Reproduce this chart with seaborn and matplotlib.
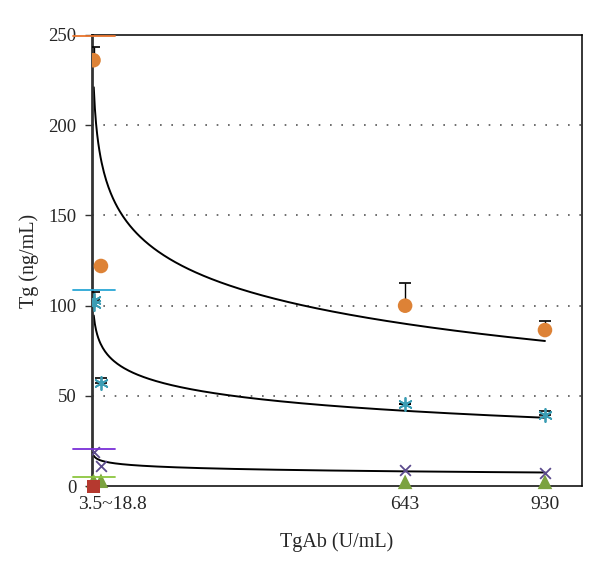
import numpy as np
import pandas as pd
import matplotlib
matplotlib.use('Agg')
import matplotlib.pyplot as plt
import seaborn as sns

# datos
x_vals = [3.5, 18.8, 643, 930]
tg_orange = [236, 122, 100, 86.5]
tg_orange_up = [7.5, 0, 12.5, 5]
tg_cyan = [103, 57, 45.5, 39.7]
tg_cyan_up = [4.5, 3, 0, 2]
tg_cyan_extra = [101]
tg_purple = [19, 11, 8.9, 7.4]
tg_green = [3, 3, 2.4, 2.4]
tg_red_x = [3.5]
tg_red = [0]

# limites de referencia (lineas cortas sobre el eje y)
ref_limits = [249.4, 108.6, 20.5, 5]
ref_colors = ['#e8742c', '#2aa7d6', '#7a2fd8', '#8cc63f']

# ajuste logaritmico y = a - b*ln(x)
fit_a = [256.8, 109.0, 19.2]
fit_b = [25.8, 10.4, 1.7]

x_ticks = [42, 643, 930]
x_ticklabels = ['3.5~18.8', '643', '930']

c_orange = '#dd8236'
c_cyan = '#3b9db4'
c_purple = '#5b4a8c'
c_green = '#7ba23f'
c_red = '#b5392f'

sns.set_style('white')
plt.rcParams['font.family'] = ['Liberation Serif', 'DejaVu Serif']

fig = plt.figure(figsize=(6, 5.64), dpi=100)
ax = fig.add_axes([0.153, 0.138, 0.817, 0.8])

# curvas ajustadas
xs = np.linspace(4, 930, 400)
for a, b in zip(fit_a, fit_b):
    sns.lineplot(x=xs, y=a - b * np.log(xs), color='black', lw=1.4, ax=ax)

# barras de error (solo hacia arriba)
ax.errorbar(x_vals, tg_orange, yerr=[np.zeros(4), tg_orange_up], fmt='none',
            ecolor='black', elinewidth=1, capsize=4, capthick=1.2, zorder=3)
ax.errorbar(x_vals, tg_cyan, yerr=[np.zeros(4), tg_cyan_up], fmt='none',
            ecolor='black', elinewidth=1, capsize=4, capthick=1.2, zorder=3)

sns.scatterplot(x=x_vals, y=tg_orange, color=c_orange, s=110, marker='o',
                edgecolor='none', ax=ax, zorder=4)
sns.scatterplot(x=x_vals + [3.5], y=tg_cyan + tg_cyan_extra, color=c_cyan, s=90,
                marker=(6, 2, 0), linewidth=1.3, ax=ax, zorder=4)
sns.scatterplot(x=x_vals, y=tg_purple, color=c_purple, s=60, marker='x',
                linewidth=1.3, ax=ax, zorder=4)
sns.scatterplot(x=x_vals, y=tg_green, color=c_green, s=110, marker='^',
                edgecolor='none', ax=ax, zorder=4, clip_on=False)
sns.scatterplot(x=tg_red_x, y=tg_red, color=c_red, s=90, marker='s',
                edgecolor='none', ax=ax, zorder=4, clip_on=False)

for lim, col in zip(ref_limits, ref_colors):
    ax.plot([-38, 47], [lim, lim], color=col, lw=1.3, clip_on=False, zorder=5)

ax.set_xlim(0, 1006)
ax.set_ylim(0, 250)
ax.set_yticks([0, 50, 100, 150, 200, 250])
ax.set_xticks(x_ticks)
ax.set_xticklabels(x_ticklabels)
ax.tick_params(axis='y', direction='out', length=5, width=1, color='#333333',
               labelsize=13.5, left=True, pad=6)
ax.tick_params(axis='x', length=0, labelsize=14, pad=7)

for v in [50, 100, 150, 200]:
    ax.axhline(v, color='#555555', lw=1.2, ls=(0, (1, 5.8)), zorder=1)

for s in ['top', 'right', 'bottom']:
    ax.spines[s].set_color('black')
    ax.spines[s].set_linewidth(1.1)
ax.spines['left'].set_color('#333333')
ax.spines['left'].set_linewidth(2)

ax.set_xlabel('TgAb (U/mL)', fontsize=14.5, labelpad=14)
ax.set_ylabel('Tg (ng/mL)', fontsize=14.5, labelpad=7)

fig.savefig('out.png', dpi=100)
